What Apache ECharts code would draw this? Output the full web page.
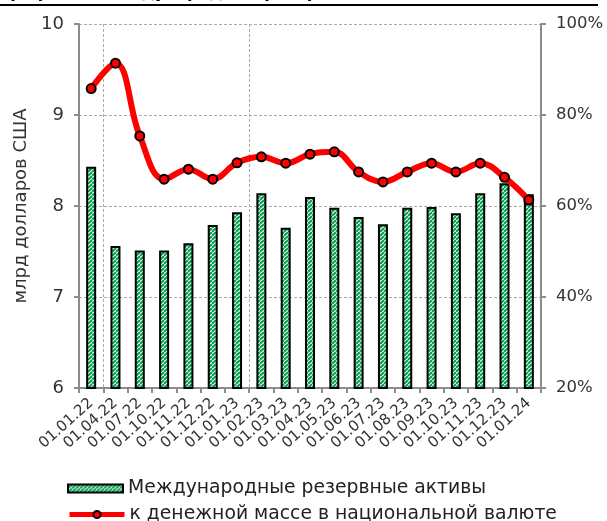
<!DOCTYPE html>
<html>
<head>
<meta charset="utf-8">
<script src="https://cdn.jsdelivr.net/npm/echarts@6/dist/echarts.min.js"></script>
<style>
html,body{margin:0;padding:0;background:#fff;}
#chart{width:607px;height:521px;}
</style>
</head>
<body>
<div id="chart"></div>
<script>
const categories = ["01.01.22","01.04.22","01.07.22","01.10.22","01.11.22","01.12.22","01.01.23","01.02.23","01.03.23","01.04.23","01.05.23","01.06.23","01.07.23","01.08.23","01.09.23","01.10.23","01.11.23","01.12.23","01.01.24"];
const reserves = [8.43, 7.56, 7.51, 7.51, 7.59, 7.79, 7.93, 8.14, 7.76, 8.10, 7.98, 7.88, 7.80, 7.98, 7.99, 7.92, 8.14, 8.25, 8.13];
const moneyShare = [85.8, 91.4, 75.4, 65.9, 68.1, 65.9, 69.5, 70.8, 69.4, 71.4, 71.9, 67.5, 65.3, 67.5, 69.4, 67.5, 69.4, 66.3, 61.3];
const leftTicks = {min: 6, max: 10, interval: 1};
const rightTicks = {min: 20, max: 100, interval: 20};
const seriesNames = ["Международные резервные активы", "к денежной массе в национальной валюте"];
const titleText = "График 6: Международные резервные активы";

function makePattern(){
  const c = document.createElement('canvas');
  c.width = 4; c.height = 4;
  const ctx = c.getContext('2d');
  ctx.fillStyle = '#ffffff';
  ctx.fillRect(0,0,4,4);
  ctx.strokeStyle = '#00a04c';
  ctx.lineWidth = 2;
  for (let k = -4; k <= 4; k += 4) {
    ctx.beginPath();
    ctx.moveTo(k, 4);
    ctx.lineTo(k + 4, 0);
    ctx.stroke();
  }
  return c;
}
const pattern = {image: makePattern(), repeat: 'repeat'};
const FONT = 'DejaVu Sans';
const chart = echarts.init(document.getElementById('chart'), null, {renderer: 'canvas'});
chart.setOption({
  animation: false,
  textStyle: {fontFamily: FONT},
  graphic: [
    {type: 'text', left: 0, top: -14, style: {text: titleText, font: 'bold 16px "DejaVu Sans"', fill: '#000'}},
    {type: 'line', shape: {x1: 0, y1: 5, x2: 598, y2: 5}, style: {stroke: '#000', lineWidth: 2}}
  ],
  grid: {left: 79, right: 66, top: 24, bottom: 133},
  legend: [
    {
      left: 67, top: 479, padding: 0, itemWidth: 55, itemHeight: 8, icon: 'rect',
      textStyle: {fontSize: 18.8, color: '#222', fontFamily: FONT},
      data: [seriesNames[0]]
    },
    {
      left: 67, top: 505, padding: 0, itemWidth: 55, itemHeight: 9,
      lineStyle: {width: 5},
      textStyle: {fontSize: 18.8, color: '#222', fontFamily: FONT},
      data: [seriesNames[1]]
    }
  ],
  xAxis: {
    type: 'category', data: categories, boundaryGap: true,
    axisLine: {lineStyle: {color: '#8c8c8c', width: 2}},
    axisTick: {show: true, interval: 0, length: 5, lineStyle: {color: '#8c8c8c', width: 2}},
    axisLabel: {interval: 0, rotate: 42, fontSize: 15, color: '#333', margin: 13, fontFamily: FONT},
    splitLine: {show: true, interval: function(i){ return i === 1 || i === 7; }, lineStyle: {color: '#aaa', type: [3,2], width: 1}}
  },
  yAxis: [
    {
      type: 'value', min: leftTicks.min, max: leftTicks.max, interval: leftTicks.interval,
      name: 'млрд долларов США', nameLocation: 'middle', nameGap: 36, nameRotate: 90,
      nameTextStyle: {fontSize: 18, color: '#333', fontFamily: FONT},
      axisLine: {show: true, lineStyle: {color: '#8c8c8c', width: 2}},
      axisTick: {show: true, length: 5, lineStyle: {color: '#8c8c8c', width: 2}},
      axisLabel: {fontSize: 18, color: '#333', margin: 15, fontFamily: FONT},
      splitLine: {show: true, lineStyle: {color: '#aaa', type: [3,2], width: 1}}
    },
    {
      type: 'value', min: rightTicks.min, max: rightTicks.max, interval: rightTicks.interval, position: 'right',
      axisLine: {show: true, lineStyle: {color: '#8c8c8c', width: 2}},
      axisTick: {show: true, length: 5, lineStyle: {color: '#8c8c8c', width: 2}},
      axisLabel: {fontSize: 16.5, color: '#333', margin: 15, formatter: '{value}%', fontFamily: FONT},
      splitLine: {show: false}
    }
  ],
  series: [
    {
      name: seriesNames[0], type: 'bar', data: reserves, yAxisIndex: 0, barWidth: 10,
      itemStyle: {color: pattern, borderColor: '#000', borderWidth: 2}
    },
    {
      name: seriesNames[1], type: 'line', data: moneyShare, yAxisIndex: 1, smooth: 0.4,
      z: 5, symbol: 'circle', symbolSize: 9,
      lineStyle: {color: '#ff0000', width: 6},
      itemStyle: {color: '#ff0000', borderColor: '#000', borderWidth: 2}
    }
  ]
});
</script>
</body>
</html>
